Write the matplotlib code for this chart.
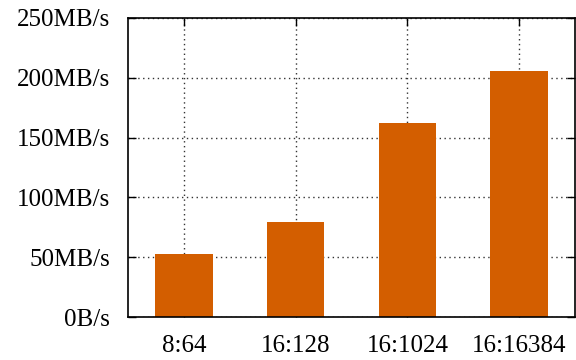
import matplotlib.pyplot as plt
import numpy as np

configs = ['8:64', '16:128', '16:1024', '16:16384']
throughput = [52.5, 79.5, 162.5, 206]  # MB/s
yticks = [0, 50, 100, 150, 200, 250]
ylabels = ['0B/s', '50MB/s', '100MB/s', '150MB/s', '200MB/s', '250MB/s']

plt.rcParams['font.family'] = ['Liberation Serif', 'DejaVu Serif']
plt.rcParams['font.size'] = 18

fig = plt.figure(figsize=(5.76, 3.6), dpi=100)
ax = fig.add_axes([128 / 576, 1 - 317 / 360, 447 / 576, 299 / 360])

x = np.arange(len(configs))
ax.bar(x, throughput, width=0.515, color='#d35e00', zorder=3)

ax.set_xlim(-0.5, 3.5)
ax.set_ylim(0, 250)
ax.set_xticks(x)
ax.set_xticklabels(configs)
ax.set_yticks(yticks)
ax.set_yticklabels(ylabels)
ax.tick_params(direction='in', length=6, width=1, top=True, right=True,
               colors='black', pad=13)
ax.tick_params(axis='x', pad=13)
ax.grid(True, linestyle=(0, (1, 2.5)), color='#333333', linewidth=1, zorder=1)
for s in ax.spines.values():
    s.set_linewidth(1.2)
    s.set_zorder(4)

fig.savefig('out.png', dpi=100)
